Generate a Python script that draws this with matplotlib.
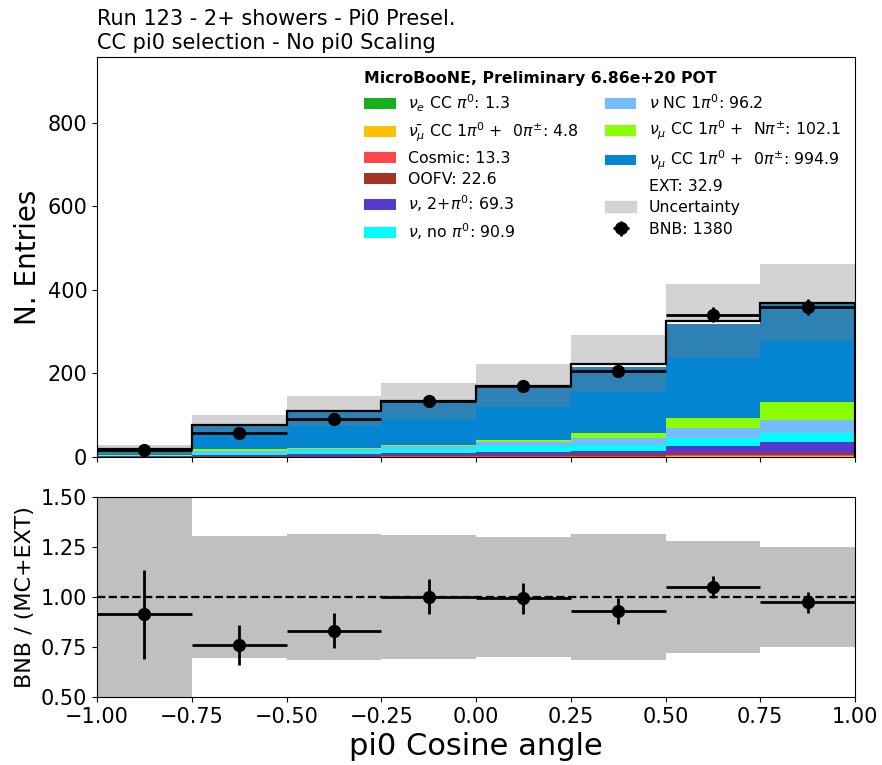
#!/usr/bin/env python3
import numpy as np
import matplotlib
matplotlib.use("Agg")
import matplotlib.pyplot as plt
from matplotlib.patches import Patch

# bin edges of the pi0 cosine angle
bin_edges = [-1.0, -0.75, -0.5, -0.25, 0.0, 0.25, 0.5, 0.75, 1.0]

# stacked MC + EXT prediction per bin (bottom to top)
nue_cc_pi0 = [0.0, 0.05, 0.1, 0.1, 0.2, 0.2, 0.3, 0.35]
numubar_cc_pi0 = [0.1, 0.2, 0.3, 0.4, 0.6, 0.8, 1.1, 1.3]
cosmic = [0.3, 0.5, 0.8, 1.0, 1.5, 2.2, 3.2, 3.8]
oofv = [0.4, 1.2, 1.8, 2.5, 3.2, 3.3, 4.9, 5.3]
multi_pi0 = [0.5, 2.8, 3.8, 4.5, 7.5, 9.0, 16.2, 25.0]
no_pi0 = [1.0, 5.2, 6.8, 10.3, 13.1, 12.7, 20.3, 21.5]
nc_pi0 = [0.9, 4.5, 4.6, 6.5, 9.1, 17.0, 23.4, 30.2]
numu_cc_npi = [0.6, 4.4, 4.5, 4.5, 6.3, 13.4, 24.0, 44.4]
numu_cc_0pi_low = [4.0, 42.0, 51.0, 62.0, 79.0, 96.0, 143.0, 146.0]
numu_cc_0pi_high = [10.0, 13.0, 33.0, 39.0, 45.0, 61.0, 82.0, 88.9]
ext = [0.8, 2.4, 4.0, 4.0, 5.7, 6.5, 6.5, 3.0]

# fractional uncertainty on the prediction
frac_unc = [0.55, 0.305, 0.315, 0.31, 0.30, 0.317, 0.278, 0.25]

# BNB data counts
bnb_data = [17, 58, 92, 135, 170, 207, 341, 360]


def main() -> None:
    edges = np.array(bin_edges)
    centers = 0.5 * (edges[1:] + edges[:-1])
    half_width = 0.5 * (edges[1:] - edges[:-1])

    cc0pi = np.array(numu_cc_0pi_low) + np.array(numu_cc_0pi_high)
    stack = [nue_cc_pi0, numubar_cc_pi0, cosmic, oofv, multi_pi0, no_pi0,
             nc_pi0, numu_cc_npi, numu_cc_0pi_low, numu_cc_0pi_high, ext]
    colors = ["#15b01a", "#fcc006", "#ff474c", "#a03623", "#5539cc",
              "#00ffff", "#75bbfd", "#89fe05", "#0485d1", "#2e81b5",
              "white"]
    labels = [
        rf"$\nu_e$ CC $\pi^0$: {sum(nue_cc_pi0):.1f}",
        rf"$\bar{{\nu_\mu}}$ CC 1$\pi^0$ +  0$\pi^{{\pm}}$: "
        f"{sum(numubar_cc_pi0):.1f}",
        f"Cosmic: {sum(cosmic):.1f}",
        f"OOFV: {sum(oofv):.1f}",
        rf"$\nu$, 2+$\pi^0$: {sum(multi_pi0):.1f}",
        rf"$\nu$, no $\pi^0$: {sum(no_pi0):.1f}",
        rf"$\nu$ NC 1$\pi^0$: {sum(nc_pi0):.1f}",
        rf"$\nu_\mu$ CC 1$\pi^0$ +  N$\pi^{{\pm}}$: {sum(numu_cc_npi):.1f}",
        rf"$\nu_\mu$ CC 1$\pi^0$ +  0$\pi^{{\pm}}$: {cc0pi.sum():.1f}",
        "_nolegend_",
        f"EXT: {sum(ext):.1f}",
    ]

    total = np.sum(np.array(stack), axis=0)
    unc = np.array(frac_unc) * total
    data = np.array(bnb_data, dtype=float)
    data_err = np.sqrt(data)

    fig = plt.figure(figsize=(8.82, 7.65), dpi=100)
    ax = fig.add_axes([0.110, 0.4026, 0.8594, 0.5229])
    rax = fig.add_axes([0.110, 0.0889, 0.8594, 0.2614], sharex=ax)

    # uncertainty band behind the stack
    ax.bar(centers, 2 * unc, width=2 * half_width, bottom=total - unc,
           color="lightgray", linewidth=0, zorder=1)
    _, _, patches = ax.hist([centers] * len(stack), bins=edges,
                            weights=stack, stacked=True,
                            histtype="stepfilled", color=colors,
                            label=labels, linewidth=0, zorder=2)
    ax.hist(centers, bins=edges, weights=total, histtype="step",
            color="black", linewidth=1.6, zorder=3)
    bnb = ax.errorbar(centers, data, xerr=half_width, yerr=data_err,
                      fmt="o", color="black", markersize=8.5,
                      elinewidth=2, capsize=0, zorder=4)

    handles = [p[0] for p in patches]
    handles = handles[:9] + [handles[10]]
    leg_labels = labels[:9] + [labels[10]]
    handles.append(Patch(color="lightgray"))
    leg_labels.append("Uncertainty")
    handles.append(bnb)
    leg_labels.append(f"BNB: {int(data.sum())}")
    ax.legend(handles, leg_labels, ncol=2, loc="upper right", fontsize=11.3,
              frameon=False, title="MicroBooNE, Preliminary 6.86e+20 POT",
              title_fontproperties={"weight": "bold", "size": 11.3},
              alignment="left", labelspacing=0.42, columnspacing=1.7)

    ax.set_xlim(-1, 1)
    ax.set_ylim(0, 958)
    ax.set_ylabel("N. Entries", fontsize=20)
    ax.set_title("Run 123 - 2+ showers - Pi0 Presel.\n"
                 "CC pi0 selection - No pi0 Scaling",
                 loc="left", fontsize=15)
    ax.tick_params(labelsize=15, labelbottom=False)

    # ratio panel
    ratio = data / total
    ratio_err = data_err / total
    rel = np.array(frac_unc)
    rax.bar(centers, 2 * rel, width=2 * half_width, bottom=1 - rel,
            color="silver", linewidth=0, zorder=1)
    rax.axhline(1.0, color="black", linestyle="--", linewidth=1.6, zorder=2)
    rax.errorbar(centers, ratio, xerr=half_width, yerr=ratio_err, fmt="o",
                 color="black", markersize=8.5, elinewidth=2, capsize=0,
                 zorder=3)
    rax.set_ylim(0.5, 1.5)
    rax.set_yticks([0.5, 0.75, 1.0, 1.25, 1.5])
    rax.set_xticks(np.arange(-1.0, 1.01, 0.25))
    rax.set_ylabel("BNB / (MC+EXT)", fontsize=16)
    rax.set_xlabel("pi0 Cosine angle", fontsize=22)
    rax.tick_params(labelsize=15)

    fig.savefig("out.png", dpi=100)


if __name__ == "__main__":
    main()
